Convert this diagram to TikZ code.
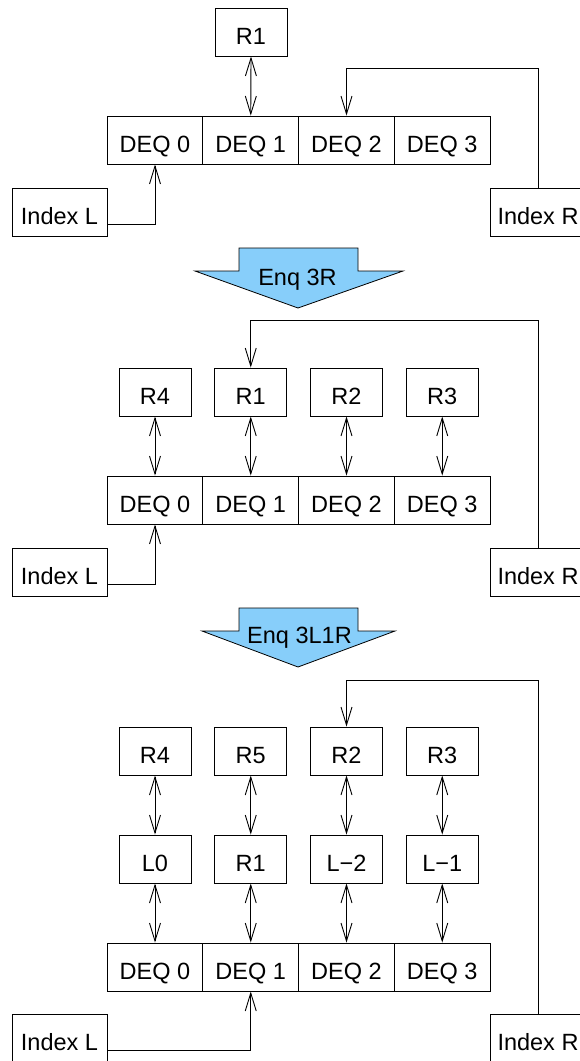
\documentclass[tikz,border=0pt]{standalone}
\usepackage{fontspec}
\setmainfont{Liberation Sans}
\usetikzlibrary{arrows.meta}
\definecolor{skyfill}{RGB}{135,206,250}
\newcommand\lblfont{\fontsize{23.5pt}{28pt}\selectfont}
\begin{document}
\begin{tikzpicture}[x=1pt,y=-1pt,
  box/.style={draw, line width=0.9pt, minimum width=72pt, minimum height=48pt,
    inner sep=0pt, text height=25.4pt, text depth=0pt, font=\lblfont},
  cell/.style={box, minimum width=95.75pt},
  idx/.style={box, minimum width=95pt},
  dbl/.style={{Straight Barb[length=18pt,width=11pt]}-{Straight Barb[length=18pt,width=11pt]}, line width=0.9pt},
  ptr/.style={-{Straight Barb[length=18pt,width=11pt]}, line width=0.9pt},
  bigarrow/.style={draw=black, line width=0.8pt, fill=skyfill, line join=miter},
  arrowlbl/.style={anchor=base, inner sep=0pt, font=\lblfont}]
\useasboundingbox (0,0) rectangle (579,1061);

% ---------- Section 1 ----------
\node[box] (a1r1) at (251,32) {R1};
\node[cell] (a1d0) at (155,140) {DEQ 0};
\node[cell] (a1d1) at (250.75,140) {DEQ 1};
\node[cell] (a1d2) at (346.5,140) {DEQ 2};
\node[cell] (a1d3) at (442.25,140) {DEQ 3};
\node[idx] (a1L) at (59.5,212) {Index L};
\node[idx, minimum width=96pt] (a1R) at (538,212) {Index R};
\coordinate (t1) at (0,68);
\draw[dbl] (a1r1.south) -- (a1d1.north);
\draw[ptr] ([yshift=-12pt]a1L.east) -| (a1d0.south);
\draw[ptr] (a1R.north) -- (a1R.north |- t1) -| (a1d2.north);

% ---------- Arrow 1 ----------
\draw[bigarrow] (239,248) -- (358,248) -- (358,271) -- (403,271) -- (298,308)
  -- (195,271) -- (239,271) -- cycle;
\node[arrowlbl] (enq1) at (297.5,285) {Enq 3R};

% ---------- Section 2 ----------
\node[box] (b1r4) at (155,392) {R4};
\node[box] (b1r1) at (250.75,392) {R1};
\node[box] (b1r2) at (346.5,392) {R2};
\node[box] (b1r3) at (442.25,392) {R3};
\node[cell] (b1d0) at (155,500) {DEQ 0};
\node[cell] (b1d1) at (250.75,500) {DEQ 1};
\node[cell] (b1d2) at (346.5,500) {DEQ 2};
\node[cell] (b1d3) at (442.25,500) {DEQ 3};
\node[idx] (b1L) at (59.5,572) {Index L};
\node[idx, minimum width=96pt] (b1R) at (538,572) {Index R};
\coordinate (t2) at (0,320);
\draw[dbl] (b1r4.south) -- (b1d0.north);
\draw[dbl] (b1r1.south) -- (b1d1.north);
\draw[dbl] (b1r2.south) -- (b1d2.north);
\draw[dbl] (b1r3.south) -- (b1d3.north);
\draw[ptr] ([yshift=-12pt]b1L.east) -| (b1d0.south);
\draw[ptr] (b1R.north) -- (b1R.north |- t2) -| (b1r1.north);

% ---------- Arrow 2 ----------
\draw[bigarrow] (239,608) -- (358,608) -- (358,631) -- (395,631) -- (298,667)
  -- (202,631) -- (239,631) -- cycle;
\node[arrowlbl] (enq2) at (299.5,643) {Enq 3L1R};

% ---------- Section 3 ----------
\node[box] (c1r4) at (155,751) {R4};
\node[box] (c1r5) at (250.75,751) {R5};
\node[box] (c1r2) at (346.5,751) {R2};
\node[box] (c1r3) at (442.25,751) {R3};
\node[box] (c1l0) at (155,859) {L0};
\node[box] (c1r1) at (250.75,859) {R1};
\node[box] (c1lm2) at (346.5,859) {L−2};
\node[box] (c1lm1) at (442.25,859) {L−1};
\node[cell] (c1d0) at (155,967) {DEQ 0};
\node[cell] (c1d1) at (250.75,967) {DEQ 1};
\node[cell] (c1d2) at (346.5,967) {DEQ 2};
\node[cell] (c1d3) at (442.25,967) {DEQ 3};
\node[idx] (c1L) at (59.5,1038) {Index L};
\node[idx, minimum width=96pt] (c1R) at (538,1038) {Index R};
\coordinate (t3) at (0,680);
\draw[dbl] (c1r4.south) -- (c1l0.north);
\draw[dbl] (c1r5.south) -- (c1r1.north);
\draw[dbl] (c1r2.south) -- (c1lm2.north);
\draw[dbl] (c1r3.south) -- (c1lm1.north);
\draw[dbl] (c1l0.south) -- (c1d0.north);
\draw[dbl] (c1r1.south) -- (c1d1.north);
\draw[dbl] (c1lm2.south) -- (c1d2.north);
\draw[dbl] (c1lm1.south) -- (c1d3.north);
\draw[ptr] ([yshift=-12pt]c1L.east) -| (c1d1.south);
\draw[ptr] (c1R.north) -- (c1R.north |- t3) -| (c1r2.north);
\end{tikzpicture}
\end{document}
